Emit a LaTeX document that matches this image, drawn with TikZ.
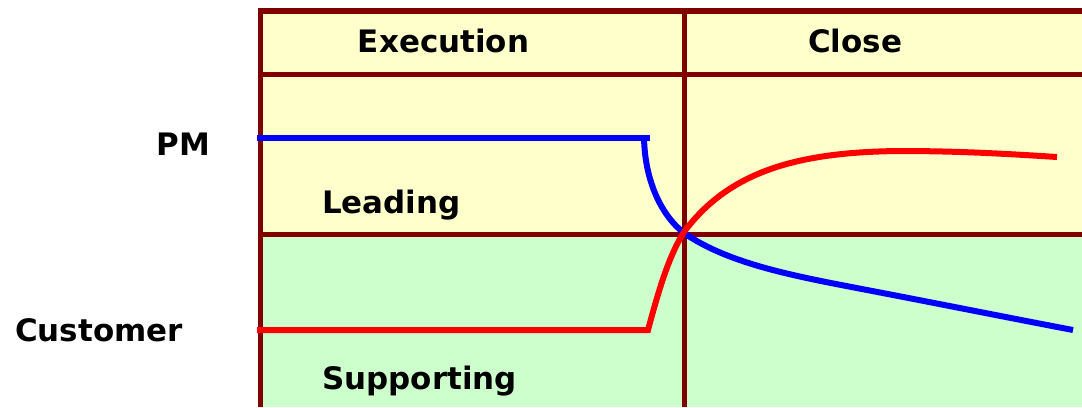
\documentclass[tikz,border=0pt]{standalone}
\usepackage{fontspec}
\setmainfont{DejaVu Sans}
\definecolor{leadfill}{HTML}{FFFFCC}
\definecolor{suppfill}{HTML}{CCFFCC}
\definecolor{gridred}{HTML}{800000}
\tikzset{
    lbl/.style={font=\fontsize{22}{26}\selectfont\bfseries, anchor=base, inner sep=0pt},
    gridline/.style={draw=gridred, line width=0.13cm},
    roleline/.style={line width=0.15cm}
}
\newcommand\rolelabel[4]{
    \node[lbl] (#1) at (#2,#3) {#4};
}
\begin{document}
\begin{tikzpicture}[x=0.025cm, y=-0.025cm]
    \useasboundingbox (0,0) rectangle (1082,407);

    % cells
    \fill[leadfill] (260.5,11) rectangle (1082,234.5);
    \fill[suppfill] (260.5,234.5) rectangle (1082,407);

    % grid
    \draw[gridline] (260.5,11) -- (1082,11);
    \draw[gridline] (260.5,74.5) -- (1082,74.5);
    \draw[gridline] (260.5,234.5) -- (1082,234.5);
    \draw[gridline] (260.5,8.5) -- (260.5,407);
    \draw[gridline] (684.5,11) -- (684.5,407);

    \rolelabel{exec}{443.5}{53}{Execution}
    \rolelabel{close}{855}{53}{Close}
    \rolelabel{pm}{183.5}{155}{PM}
    \rolelabel{cust}{99}{341}{Customer}
    \rolelabel{lead}{391.5}{213}{Leading}
    \rolelabel{supp}{419.5}{389}{Supporting}

    % PM
    \draw[roleline, blue] (257,138) -- (650,138);
    \draw[roleline, blue] (644,138) .. controls (645,182) and (662,216) .. (684,233)
        .. controls (730,265) and (800,277) .. (867,290)
        .. controls (940,304) and (1010,318) .. (1073,330);

    % Customer
    \draw[roleline, red] (257,330) -- (648,330)
        .. controls (660,285) and (670,254) .. (684,232)
        .. controls (730,170) and (800,152) .. (900,151)
        .. controls (960,151) and (1010,154) .. (1057,157);
\end{tikzpicture}
\end{document}
